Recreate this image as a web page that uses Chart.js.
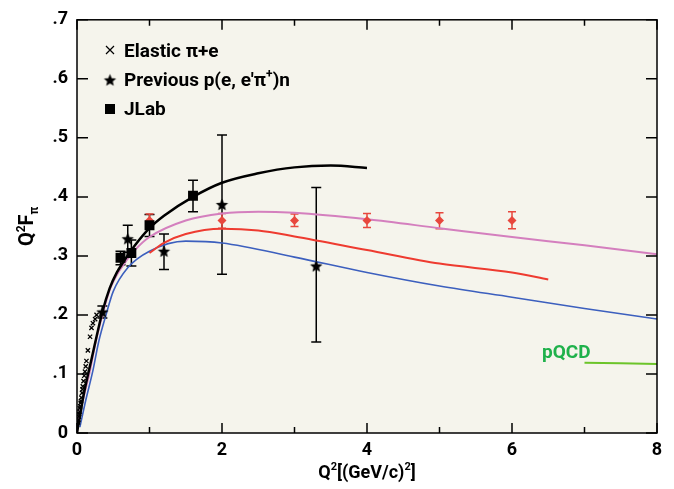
<!DOCTYPE html>
<html>
<head>
<meta charset="utf-8">
<script src="https://cdn.jsdelivr.net/npm/chart.js@4.4.0/dist/chart.umd.min.js"></script>
<style>
  html, body { margin: 0; padding: 0; background: #fff; }
  #wrap { width: 674px; height: 489px; }
</style>
</head>
<body>
<div id="wrap"><canvas id="chart" width="674" height="489"></canvas></div>
<script>
// ---- data ----
var xTicks = [0, 2, 4, 6, 8];
var yTicks = [0, 0.1, 0.2, 0.3, 0.4, 0.5, 0.6, 0.7];

// elastic pi+e scattering (crosses)
var elasticX = [0.015, 0.02, 0.025, 0.03, 0.035, 0.04, 0.045, 0.05, 0.055, 0.06, 0.07, 0.075, 0.08, 0.09, 0.1, 0.11, 0.12, 0.13, 0.15, 0.18, 0.2, 0.22, 0.25, 0.27];
var elasticY = [0.018, 0.022, 0.028, 0.032, 0.036, 0.042, 0.045, 0.051, 0.054, 0.06, 0.068, 0.074, 0.079, 0.088, 0.097, 0.104, 0.113, 0.122, 0.14, 0.163, 0.178, 0.186, 0.193, 0.2];

// previous p(e,e'pi+)n (stars)
var prevX  = [0.35, 0.7, 1.2, 2.0, 3.3];
var prevY  = [0.205, 0.329, 0.308, 0.387, 0.283];
var prevHi = [0.215, 0.352, 0.337, 0.505, 0.416];
var prevLo = [0.195, 0.306, 0.277, 0.269, 0.154];

// JLab (squares)
var jlabX  = [0.6, 0.75, 1.0, 1.6];
var jlabY  = [0.297, 0.305, 0.352, 0.402];
var jlabHi = [0.308, 0.327, 0.37, 0.428];
var jlabLo = [0.285, 0.283, 0.333, 0.375];

// projected points (red diamonds)
var projX  = [1, 2, 3, 4, 5, 6];
var projY  = [0.36, 0.36, 0.36, 0.36, 0.36, 0.36];
var projHi = [0.371, 0.372, 0.371, 0.372, 0.373, 0.375];
var projLo = [0.347, 0.347, 0.35, 0.348, 0.346, 0.346];

// model curves
var blackX = [0, 0.1, 0.2, 0.35, 0.45, 0.55, 0.63, 0.8, 1.0, 1.2, 1.6, 2.0, 2.5, 3.0, 3.5, 4.0];
var blackY = [0, 0.07, 0.125, 0.205, 0.245, 0.272, 0.288, 0.318, 0.347, 0.368, 0.4, 0.424, 0.44, 0.45, 0.453, 0.449];
var pinkX = [0, 0.03, 0.1, 0.18, 0.25, 0.35, 0.45, 0.6, 0.8, 1.0, 1.5, 2.0, 2.5, 3.0, 4.0, 5.0, 6.0, 7.0, 8.0];
var pinkY = [0, 0.027, 0.065, 0.106, 0.15, 0.2, 0.242, 0.278, 0.31, 0.332, 0.36, 0.372, 0.375, 0.373, 0.362, 0.347, 0.332, 0.318, 0.303];
var blueX = [0.04, 0.12, 0.22, 0.3, 0.4, 0.5, 0.7, 1.0, 1.5, 2.0, 3.0, 4.0, 5.0, 6.0, 7.0, 8.0];
var blueY = [0.01, 0.055, 0.106, 0.155, 0.2, 0.24, 0.28, 0.308, 0.325, 0.322, 0.298, 0.272, 0.249, 0.23, 0.211, 0.193];
var redX = [1.0, 1.2, 1.5, 2.0, 2.5, 3.0, 4.0, 5.0, 6.0, 6.5];
var redY = [0.305, 0.322, 0.337, 0.346, 0.343, 0.333, 0.31, 0.287, 0.272, 0.26];
var pqcdX = [7.0, 8.0];
var pqcdY = [0.119, 0.117];

var FONT = "Roboto, 'Liberation Sans', sans-serif";
var BG = '#f5f4ec';

function pts(xs, ys) {
  var out = [];
  for (var i = 0; i < xs.length; i++) out.push({ x: xs[i], y: ys[i] });
  return out;
}

// filled five point star used as point style
function makeStar(r) {
  var c = document.createElement('canvas');
  c.width = c.height = Math.ceil(r * 2 + 2);
  var g = c.getContext('2d');
  var cx = c.width / 2, cy = c.height / 2 + 0.5;
  g.beginPath();
  for (var i = 0; i < 10; i++) {
    var rad = (i % 2 == 0) ? r : r * 0.45;
    var a = -Math.PI / 2 + i * Math.PI / 5;
    g.lineTo(cx + rad * Math.cos(a), cy + rad * Math.sin(a));
  }
  g.closePath();
  g.fillStyle = '#000';
  g.fill();
  return c;
}
var starImg = makeStar(6.5);

// text with super/subscripts, parts = [[text, 'sup'|'sub'|null], ...]
function richWidth(ctx, parts, size) {
  var w = 0;
  parts.forEach(function (p) {
    ctx.font = 'bold ' + (p[1] ? Math.round(size * 0.62) : size) + 'px ' + FONT;
    w += ctx.measureText(p[0]).width;
  });
  return w;
}
function drawRich(ctx, parts, x, y, size) {
  parts.forEach(function (p) {
    var s = p[1] ? Math.round(size * 0.62) : size;
    ctx.font = 'bold ' + s + 'px ' + FONT;
    var dy = p[1] == 'sup' ? -size * 0.42 : (p[1] == 'sub' ? size * 0.25 : 0);
    ctx.fillText(p[0], x, y + dy);
    x += ctx.measureText(p[0]).width;
  });
}

var errorSets = [
  { xs: prevX, lo: prevLo, hi: prevHi, color: '#000', cap: 5 },
  { xs: jlabX, lo: jlabLo, hi: jlabHi, color: '#000', cap: 5 },
  { xs: projX, lo: projLo, hi: projHi, color: '#e8473d', cap: 4 }
];

var decor = {
  id: 'decor',
  beforeDraw: function (chart) {
    var a = chart.chartArea, ctx = chart.ctx;
    ctx.save();
    ctx.fillStyle = BG;
    ctx.fillRect(a.left, a.top, a.right - a.left, a.bottom - a.top);
    ctx.restore();
  },
  beforeDatasetsDraw: function (chart) {
    var ctx = chart.ctx, xs = chart.scales.x, ys = chart.scales.y;
    ctx.save();
    ctx.lineWidth = 1.5;
    errorSets.forEach(function (s) {
      ctx.strokeStyle = s.color;
      for (var i = 0; i < s.xs.length; i++) {
        var px = xs.getPixelForValue(s.xs[i]);
        var p1 = ys.getPixelForValue(s.lo[i]);
        var p2 = ys.getPixelForValue(s.hi[i]);
        ctx.beginPath();
        ctx.moveTo(px, p1); ctx.lineTo(px, p2);
        ctx.moveTo(px - s.cap, p1); ctx.lineTo(px + s.cap, p1);
        ctx.moveTo(px - s.cap, p2); ctx.lineTo(px + s.cap, p2);
        ctx.stroke();
      }
    });
    ctx.restore();
  },
  afterDraw: function (chart) {
    var ctx = chart.ctx, a = chart.chartArea, xs = chart.scales.x, ys = chart.scales.y;
    ctx.save();
    // frame
    ctx.strokeStyle = '#000';
    ctx.lineWidth = 1.5;
    ctx.strokeRect(a.left, a.top, a.right - a.left, a.bottom - a.top);
    // inward ticks
    ctx.beginPath();
    for (var v = 0; v <= 8; v++) {
      var px = xs.getPixelForValue(v);
      var len = (v % 2 == 0) ? 10 : 6;
      ctx.moveTo(px, a.bottom); ctx.lineTo(px, a.bottom - len);
      ctx.moveTo(px, a.top); ctx.lineTo(px, a.top + len);
    }
    yTicks.forEach(function (t) {
      var py = ys.getPixelForValue(t);
      ctx.moveTo(a.left, py); ctx.lineTo(a.left + 11, py);
      ctx.moveTo(a.right, py); ctx.lineTo(a.right - 11, py);
    });
    ctx.stroke();

    // legend
    ctx.fillStyle = '#000';
    ctx.textBaseline = 'alphabetic';
    ctx.textAlign = 'left';
    var lx = 110, tx = 124;
    ctx.lineWidth = 1.2;
    ctx.beginPath();
    ctx.moveTo(lx - 4, 46); ctx.lineTo(lx + 4, 54);
    ctx.moveTo(lx + 4, 46); ctx.lineTo(lx - 4, 54);
    ctx.stroke();
    drawRich(ctx, [['Elastic \u03c0+e', null]], tx, 57, 19);
    ctx.drawImage(starImg, lx - starImg.width / 2, 80 - starImg.height / 2);
    drawRich(ctx, [['Previous p(e, e\'\u03c0', null], ['+', 'sup'], [')n', null]], tx, 86, 19);
    ctx.fillRect(lx - 5, 104, 10, 10);
    drawRich(ctx, [['JLab', null]], tx, 115, 19);

    // pQCD label
    ctx.fillStyle = '#1fb14b';
    drawRich(ctx, [['pQCD', null]], 542, 358, 19);

    // axis titles
    ctx.fillStyle = '#000';
    var xt = [['Q', null], ['2', 'sup'], ['[(GeV/c)', null], ['2', 'sup'], [']', null]];
    var w = richWidth(ctx, xt, 18);
    drawRich(ctx, xt, (a.left + a.right) / 2 - w / 2, 478, 18);

    var yt = [['Q', null], ['2', 'sup'], ['F', null], ['\u03c0', 'sub']];
    var wy = richWidth(ctx, yt, 20);
    ctx.translate(33, (a.top + a.bottom) / 2);
    ctx.rotate(-Math.PI / 2);
    drawRich(ctx, yt, -wy / 2, 0, 20);
    ctx.restore();
  }
};

function curve(xs, ys, color, width) {
  return {
    data: pts(xs, ys), showLine: true, borderColor: color, borderWidth: width,
    pointRadius: 0, cubicInterpolationMode: 'monotone', fill: false
  };
}

var ctx = document.getElementById('chart').getContext('2d');
var chart = new Chart(ctx, {
  type: 'scatter',
  data: {
    datasets: [
      { label: 'JLab', data: pts(jlabX, jlabY), pointStyle: 'rect', pointRadius: 7,
        backgroundColor: '#000', borderColor: '#000', borderWidth: 0 },
      { label: 'Previous', data: pts(prevX, prevY), pointStyle: starImg, pointRadius: 6 },
      { label: 'Projected', data: pts(projX, projY), pointStyle: 'rectRot', pointRadius: 4.5,
        backgroundColor: '#e8473d', borderColor: '#e8473d', borderWidth: 0 },
      { label: 'Elastic', data: pts(elasticX, elasticY), pointStyle: 'crossRot', pointRadius: 3,
        borderColor: '#000', borderWidth: 1.3, backgroundColor: '#000' },
      curve(blackX, blackY, '#000000', 2.5),
      curve(pinkX, pinkY, '#d47fbe', 2),
      curve(redX, redY, '#ee3b30', 2),
      curve(blueX, blueY, '#3c5fbe', 1.6),
      curve(pqcdX, pqcdY, '#6cc42a', 2)
    ]
  },
  options: {
    responsive: false,
    animation: false,
    devicePixelRatio: 1,
    layout: { padding: { top: 17, right: 17, left: 0, bottom: 0 } },
    plugins: { legend: { display: false }, tooltip: { enabled: false } },
    scales: {
      x: {
        type: 'linear', min: 0, max: 8,
        grid: { display: false, drawTicks: false },
        border: { display: false },
        afterBuildTicks: function (s) { s.ticks = xTicks.map(function (v) { return { value: v }; }); },
        afterFit: function (s) { s.height = 56; },
        ticks: { padding: 7, color: '#000', font: { family: FONT, size: 18, weight: 'bold' } }
      },
      y: {
        type: 'linear', min: 0, max: 0.7,
        grid: { display: false, drawTicks: false },
        border: { display: false },
        afterBuildTicks: function (s) { s.ticks = yTicks.map(function (v) { return { value: v }; }); },
        afterFit: function (s) { s.width = 77; },
        ticks: {
          padding: 9, color: '#000', font: { family: FONT, size: 18, weight: 'bold' },
          callback: function (v) { return v == 0 ? '0' : '.' + Math.round(v * 10); }
        }
      }
    }
  },
  plugins: [decor]
});
</script>
</body>
</html>
